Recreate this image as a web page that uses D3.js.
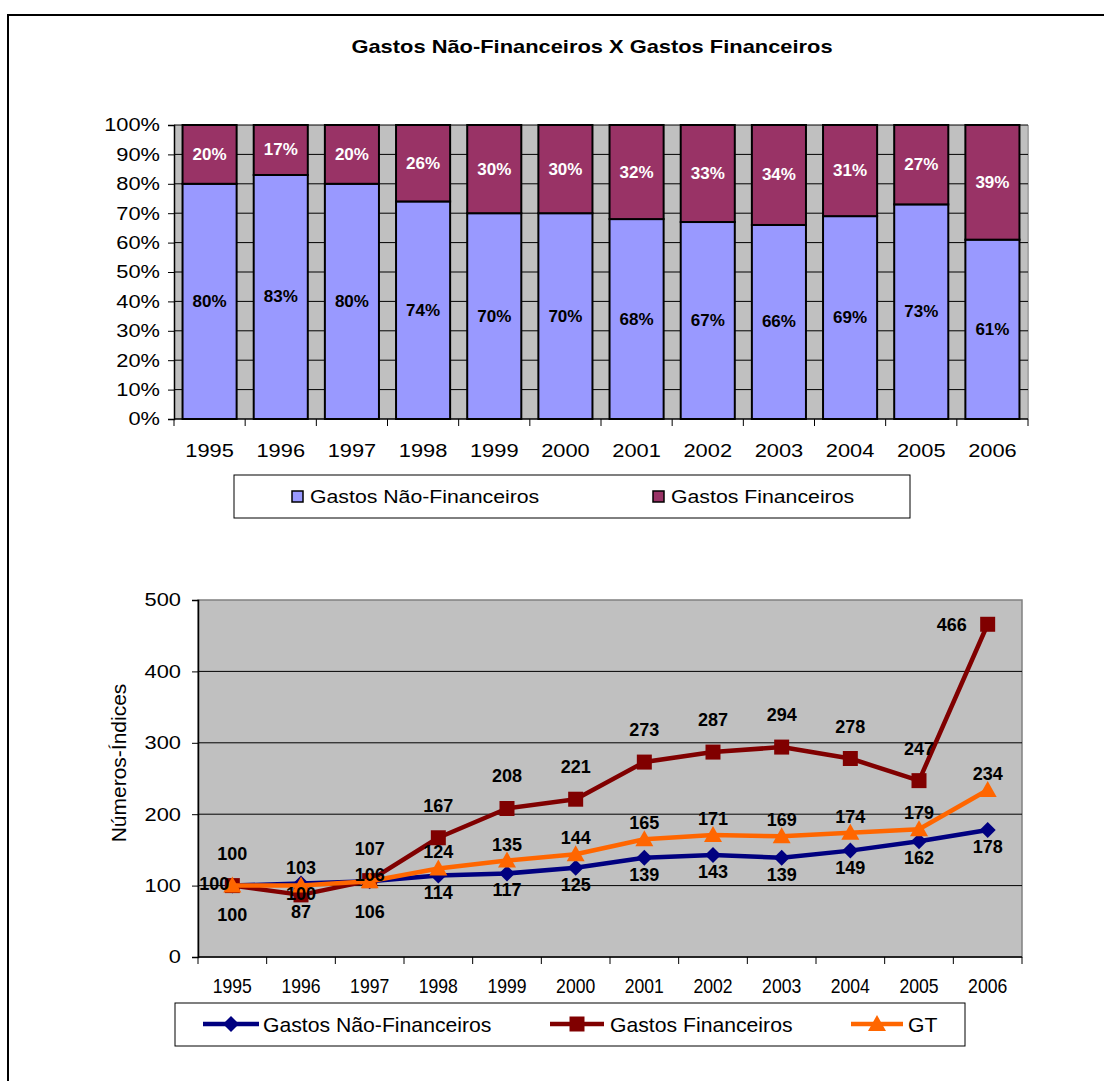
<!DOCTYPE html>
<html>
<head>
<meta charset="utf-8">
<script src="https://cdn.jsdelivr.net/npm/d3@7"></script>
<style>
  html, body { margin: 0; padding: 0; background: #fff; }
  svg { display: block; font-family: "Liberation Sans", Arial, sans-serif; }
</style>
</head>
<body>
<svg id="chart" width="1104" height="1081"></svg>
<script>
// ---- data ----
const years = ["1995","1996","1997","1998","1999","2000","2001","2002","2003","2004","2005","2006"];
// composition of spending (% of total)
const shareNaoFin = [80, 83, 80, 74, 70, 70, 68, 67, 66, 69, 73, 61];
const shareFin    = [20, 17, 20, 26, 30, 30, 32, 33, 34, 31, 27, 39];
// index numbers (1995 = 100)
const idxNaoFin = [100, 103, 106, 114, 117, 125, 139, 143, 139, 149, 162, 178];
const idxFin    = [100,  87, 107, 167, 208, 221, 273, 287, 294, 278, 247, 466];
const idxGT     = [100, 100, 106, 124, 135, 144, 165, 171, 169, 174, 179, 234];
const pctTicks = [0, 10, 20, 30, 40, 50, 60, 70, 80, 90, 100];
const idxTicks = [0, 100, 200, 300, 400, 500];
const seriesNames = ["Gastos Não-Financeiros", "Gastos Financeiros", "GT"];

const svg = d3.select("#chart");

// text drawn with a horizontal stretch factor
function wideText(g, x, y, str, opts) {
  const o = Object.assign({size: 16.5, sx: 1.3, anchor: "start", weight: "normal", fill: "#000"}, opts || {});
  return g.append("text")
    .attr("transform", `translate(${x},${y}) scale(${o.sx},1)`)
    .attr("text-anchor", o.anchor)
    .attr("dominant-baseline", "central")
    .attr("font-size", o.size)
    .attr("font-weight", o.weight)
    .attr("fill", o.fill)
    .text(str);
}

// outer frame
svg.append("rect").attr("x", 8).attr("y", 15).attr("width", 1120).attr("height", 1100)
  .attr("fill", "none").attr("stroke", "#000").attr("stroke-width", 2);

// title
wideText(svg, 592, 47, "Gastos Não-Financeiros X Gastos Financeiros",
  {size: 17.5, sx: 1.25, anchor: "middle", weight: "bold"});

// ================= 100% stacked bars =================
const barG = svg.append("g");
const T = {left: 174, right: 1028, top: 125, bottom: 419};
const xb = d3.scaleBand().domain(years).range([T.left, T.right]).paddingInner(0.24).paddingOuter(0.12);
const xbTicks = d3.scaleBand().domain(years).range([T.left, T.right]);
const yp = d3.scaleLinear().domain([0, 100]).range([T.bottom, T.top]);

barG.append("rect").attr("x", T.left).attr("y", T.top)
  .attr("width", T.right - T.left).attr("height", T.bottom - T.top).attr("fill", "#C0C0C0");
barG.append("line").attr("x1", T.right).attr("x2", T.right).attr("y1", T.top).attr("y2", T.bottom)
  .attr("stroke", "#A8A8A8").attr("stroke-width", 2);

barG.selectAll("line.grid").data(pctTicks.filter(d => d > 0)).join("line")
  .attr("class", "grid")
  .attr("x1", T.left).attr("x2", T.right)
  .attr("y1", d => yp(d)).attr("y2", d => yp(d))
  .attr("stroke", "#000").attr("stroke-width", 1);

const barRows = years.map((y, i) => ({year: y, nf: shareNaoFin[i], f: shareFin[i]}));
const stacked = d3.stack().keys(["nf", "f"])(barRows);
const barFill = {nf: "#9999FF", f: "#993366"};
const labelFill = {nf: "#000", f: "#fff"};

stacked.forEach(layer => {
  const g = barG.append("g");
  g.selectAll("rect").data(layer).join("rect")
    .attr("x", d => xb(d.data.year))
    .attr("y", d => yp(d[1]))
    .attr("width", xb.bandwidth())
    .attr("height", d => yp(d[0]) - yp(d[1]))
    .attr("fill", barFill[layer.key])
    .attr("stroke", "#000").attr("stroke-width", 2);
});
stacked.forEach(layer => {
  barG.append("g").selectAll("text").data(layer).join("text")
    .attr("x", d => xb(d.data.year) + xb.bandwidth() / 2)
    .attr("y", d => (yp(d[0]) + yp(d[1])) / 2)
    .attr("text-anchor", "middle").attr("dominant-baseline", "central")
    .attr("font-size", 17).attr("font-weight", "bold")
    .attr("fill", labelFill[layer.key])
    .text(d => d.data[layer.key] + "%");
});

// axes
const yAxisTop = barG.append("g").attr("transform", `translate(${T.left},0)`)
  .call(d3.axisLeft(yp).tickValues(pctTicks).tickSize(6).tickFormat(d => d + "%"));
yAxisTop.select(".domain").attr("stroke", "#000").attr("stroke-width", 1.5);
yAxisTop.selectAll(".tick line").attr("stroke", "#000");
yAxisTop.selectAll(".tick text").remove();
pctTicks.forEach(v => wideText(barG, 160, yp(v), v + "%", {anchor: "end", size: 18.5, sx: 1.18}));

barG.append("line").attr("x1", T.left).attr("x2", T.right).attr("y1", T.bottom).attr("y2", T.bottom)
  .attr("stroke", "#000").attr("stroke-width", 1.5);
barG.selectAll("line.xt").data(years.concat(["end"])).join("line").attr("class", "xt")
  .attr("x1", d => d === "end" ? T.right : xbTicks(d))
  .attr("x2", d => d === "end" ? T.right : xbTicks(d))
  .attr("y1", T.bottom).attr("y2", T.bottom + 7).attr("stroke", "#000");
years.forEach(y => wideText(barG, xbTicks(y) + xbTicks.bandwidth() / 2, 451, y,
  {anchor: "middle", size: 18.5, sx: 1.18}));

// legend
const lg1 = barG.append("g");
lg1.append("rect").attr("x", 234).attr("y", 475).attr("width", 676).attr("height", 43)
  .attr("fill", "#fff").attr("stroke", "#000");
[{k: "nf", x: 292, t: seriesNames[0]}, {k: "f", x: 653, t: seriesNames[1]}].forEach(it => {
  lg1.append("rect").attr("x", it.x).attr("y", 491).attr("width", 11).attr("height", 11)
    .attr("fill", barFill[it.k]).attr("stroke", "#000").attr("stroke-width", 1.5);
  wideText(lg1, it.x + 18, 497, it.t, {size: 18.5, sx: 1.15});
});

// ================= index lines =================
const lineG = svg.append("g");
const B = {left: 198, right: 1022, top: 600, bottom: 957};
const xp = d3.scalePoint().domain(years).range([B.left, B.right]).padding(0.5);
const xpBand = d3.scaleBand().domain(years).range([B.left, B.right]);
const yi = d3.scaleLinear().domain([0, 500]).range([B.bottom, B.top]);

lineG.append("rect").attr("x", B.left).attr("y", B.top)
  .attr("width", B.right - B.left).attr("height", B.bottom - B.top)
  .attr("fill", "#C0C0C0").attr("stroke", "#808080").attr("stroke-width", 1.5);
lineG.selectAll("line.grid").data(idxTicks.filter(d => d > 0 && d < 500)).join("line")
  .attr("class", "grid")
  .attr("x1", B.left).attr("x2", B.right)
  .attr("y1", d => yi(d)).attr("y2", d => yi(d))
  .attr("stroke", "#000").attr("stroke-width", 1);

const yAxisBot = lineG.append("g").attr("transform", `translate(${B.left},0)`)
  .call(d3.axisLeft(yi).tickValues(idxTicks).tickSize(6));
yAxisBot.select(".domain").attr("stroke", "#000").attr("stroke-width", 1.5);
yAxisBot.selectAll(".tick line").attr("stroke", "#000");
yAxisBot.selectAll(".tick text").remove();
idxTicks.forEach(v => wideText(lineG, 181, yi(v), String(v), {anchor: "end", size: 18.5, sx: 1.18}));

lineG.append("line").attr("x1", B.left).attr("x2", B.right).attr("y1", B.bottom).attr("y2", B.bottom)
  .attr("stroke", "#000").attr("stroke-width", 1.5);
lineG.selectAll("line.xt").data(years.concat(["end"])).join("line").attr("class", "xt")
  .attr("x1", d => d === "end" ? B.right : xpBand(d))
  .attr("x2", d => d === "end" ? B.right : xpBand(d))
  .attr("y1", B.bottom).attr("y2", B.bottom + 7).attr("stroke", "#000");
years.forEach(y => wideText(lineG, xp(y), 986, y, {anchor: "middle", size: 20, sx: 0.88}));

// axis title
lineG.append("text")
  .attr("transform", `translate(118,763) rotate(-90)`)
  .attr("text-anchor", "middle").attr("dominant-baseline", "central")
  .attr("font-size", 21).text("Números-Índices");

// marker shapes
const markerPath = {
  diamond: "M0,-8L8,0L0,8L-8,0Z",
  square: "M-7.5,-7.5H7.5V7.5H-7.5Z",
  triangle: "M0,-9L9,7H-9Z"
};
const lines = [
  {name: seriesNames[0], values: idxNaoFin, color: "#000080", marker: "diamond", dy: 17},
  {name: seriesNames[1], values: idxFin,    color: "#800000", marker: "square",  dy: -32},
  {name: seriesNames[2], values: idxGT,     color: "#FF6600", marker: "triangle", dy: -16}
];
// label nudges where the three series crowd together
const labelNudge = {
  "0|1995": {dx: 0, dy: 29}, "2|1995": {dx: -18, dy: -2},
  "0|1996": {dx: 0, dy: -15}, "1|1996": {dx: 0, dy: 17}, "2|1996": {dx: 0, dy: 8},
  "0|1997": {dx: 0, dy: 31}, "2|1997": {dx: 0, dy: -6},
  "1|2006": {dx: -36, dy: 1}
};

const lineGen = d3.line().x((d, i) => xp(years[i])).y(d => yi(d));
lines.forEach(s => {
  const g = lineG.append("g");
  g.append("path").datum(s.values).attr("d", lineGen)
    .attr("fill", "none").attr("stroke", s.color).attr("stroke-width", 4.5)
    .attr("stroke-linejoin", "round");
  g.selectAll("path.mk").data(s.values).join("path").attr("class", "mk")
    .attr("transform", (d, i) => `translate(${xp(years[i])},${yi(d)})`)
    .attr("d", markerPath[s.marker]).attr("fill", s.color);
});
lines.forEach((s, si) => {
  lineG.append("g").selectAll("text").data(s.values).join("text")
    .attr("x", (d, i) => xp(years[i]) + ((labelNudge[si + "|" + years[i]] || {}).dx || 0))
    .attr("y", (d, i) => {
      const n = labelNudge[si + "|" + years[i]];
      return yi(d) + (n ? n.dy : s.dy);
    })
    .attr("text-anchor", "middle").attr("dominant-baseline", "central")
    .attr("font-size", 18).attr("font-weight", "bold").attr("fill", "#000")
    .text(d => d);
});

// legend
const lg2 = lineG.append("g");
lg2.append("rect").attr("x", 175).attr("y", 1003).attr("width", 790).attr("height", 43)
  .attr("fill", "#fff").attr("stroke", "#000");
[{i: 0, x0: 203, x1: 259, tx: 263}, {i: 1, x0: 550, x1: 604, tx: 610}, {i: 2, x0: 851, x1: 903, tx: 908}]
  .forEach(it => {
    const s = lines[it.i];
    lg2.append("line").attr("x1", it.x0).attr("x2", it.x1).attr("y1", 1024).attr("y2", 1024)
      .attr("stroke", s.color).attr("stroke-width", 4.5);
    lg2.append("path").attr("transform", `translate(${(it.x0 + it.x1) / 2},1024)`)
      .attr("d", markerPath[s.marker]).attr("fill", s.color);
    wideText(lg2, it.tx, 1025, s.name, {size: 20, sx: 1.06});
  });
</script>
</body>
</html>
